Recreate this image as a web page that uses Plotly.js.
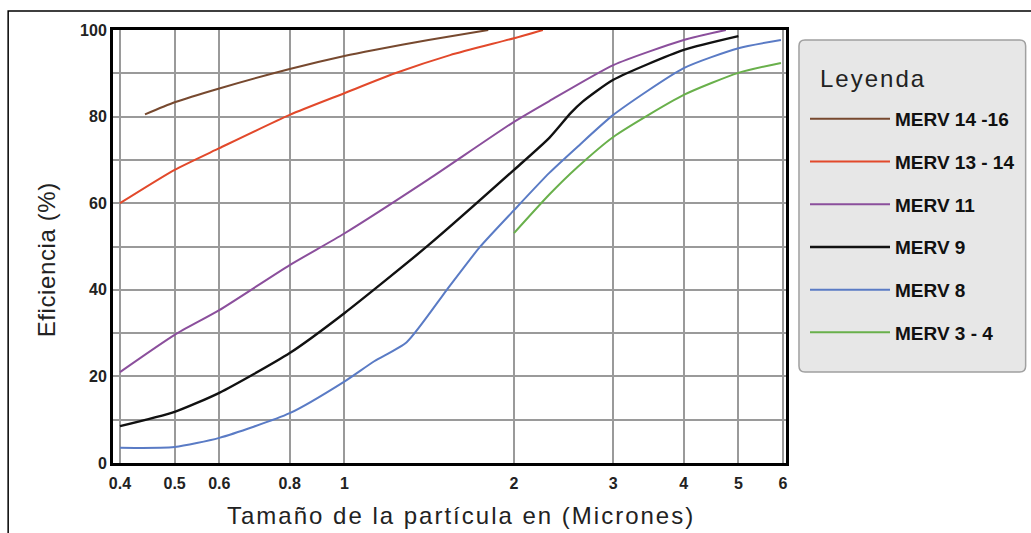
<!DOCTYPE html>
<html>
<head>
<meta charset="utf-8">
<script src="https://cdn.plot.ly/plotly-3.0.1.min.js"></script>
<style>
html,body{margin:0;padding:0;background:#fff;}
#chart{width:1031px;height:533px;}
g.annotation[data-index="0"] text{letter-spacing:2px;}
g.annotation[data-index="1"] text{letter-spacing:0.6px;}
g.annotation[data-index="2"] text{letter-spacing:2px;}
</style>
</head>
<body>
<div id="chart"></div>
<script>
// Data (particle size in microns, efficiency in %)
const seriesNames = ["MERV 14 -16", "MERV 13 - 14", "MERV 11", "MERV 9", "MERV 8", "MERV 3 - 4"];
const seriesColors = ["#77492f", "#e2492b", "#8b4f9c", "#111111", "#5a7bc5", "#69b04b"];

const merv14_x = [0.443, 0.5, 0.6, 0.8, 1.0, 1.13, 1.41, 1.8];
const merv14_y = [80.5, 83.3, 86.5, 91.0, 94.0, 95.4, 97.7, 100];

const merv13_x = [0.4, 0.5, 0.6, 0.8, 1.0, 1.23, 1.54, 2.0, 2.25];
const merv13_y = [60, 67.7, 72.7, 80.4, 85.4, 90.0, 94.2, 98.1, 100];

const merv11_x = [0.4, 0.5, 0.6, 0.8, 1.0, 1.41, 2.0, 2.31, 3.0, 4.0, 4.75];
const merv11_y = [21, 29.6, 35.3, 45.7, 53.0, 65.5, 78.8, 83.6, 91.9, 97.7, 100];

const merv9_x = [0.4, 0.5, 0.6, 0.8, 1.0, 1.41, 2.0, 2.31, 2.52, 2.65, 3.0, 4.0, 5.0];
const merv9_y = [8.5, 11.8, 16.2, 25.4, 34.6, 50.3, 67.7, 75.1, 80.8, 83.5, 88.5, 95.4, 98.6];

const merv8_x = [0.4, 0.5, 0.6, 0.8, 1.0, 1.13, 1.29, 1.52, 1.74, 2.0, 2.31, 2.59, 3.0, 4.0, 5.0, 5.95];
const merv8_y = [3.5, 3.7, 5.8, 11.5, 18.8, 23.5, 27.9, 40.0, 49.9, 58.4, 67.0, 73.0, 80.4, 91.2, 95.8, 97.7];

const merv3_x = [2.0, 2.31, 2.59, 3.0, 4.0, 5.0, 5.95];
const merv3_y = [53.1, 62.0, 68.3, 75.3, 85.0, 90.1, 92.4];

const xTickVals = [0.4, 0.5, 0.6, 0.8, 1, 2, 3, 4, 5, 6];
const xTickText = ["0.4", "0.5", "0.6", "0.8", "1", "2", "3", "4", "5", "6"];
const yTickVals = [0, 20, 40, 60, 80, 100];

const xTitle = "Tamaño de la partícula en (Micrones)";
const yTitle = "Eficiencia (%)";
const legendTitle = "Leyenda";

const xs = [merv14_x, merv13_x, merv11_x, merv9_x, merv8_x, merv3_x];
const ys = [merv14_y, merv13_y, merv11_y, merv9_y, merv8_y, merv3_y];

const traces = seriesNames.map((n, i) => ({
  type: "scatter", mode: "lines", name: n, x: xs[i], y: ys[i],
  legendgroup: "g" + i,
  line: {color: seriesColors[i], width: i === 3 ? 2.4 : 2, shape: "spline", smoothing: 0.6}
}));

const font = "Liberation Sans, Arial, sans-serif";
const PX = px => (px - 113) / 674, PY = py => (463 - py) / 433;

const layout = {
  width: 1031, height: 533,
  margin: {l: 113, r: 244, t: 30, b: 70},
  paper_bgcolor: "#ffffff", plot_bgcolor: "#ffffff",
  font: {family: font, color: "#222"},
  showlegend: true,
  xaxis: {
    type: "log", range: [Math.log10(0.4) - 0.0124, Math.log10(6) + 0.0053],
    tickvals: xTickVals, ticktext: xTickText,
    tickfont: {family: font, size: 16, weight: "bold", color: "#222"},
    ticklabelstandoff: 4,
    showgrid: true, gridcolor: "#9a9a9a", gridwidth: 2,
    showline: true, linecolor: "#000", linewidth: 3, mirror: true,
    ticks: "", zeroline: false
  },
  yaxis: {
    range: [0, 100],
    tickvals: yTickVals,
    tickfont: {family: font, size: 16, weight: "bold", color: "#222"},
    showgrid: true, gridcolor: "#9a9a9a", gridwidth: 2,
    minor: {dtick: 10, showgrid: true, gridcolor: "#9a9a9a", gridwidth: 2},
    showline: true, linecolor: "#000", linewidth: 3, mirror: true,
    ticks: "", zeroline: false
  },
  legend: {
    x: PX(805), xanchor: "left", y: PY(100), yanchor: "top",
    bgcolor: "rgba(0,0,0,0)", borderwidth: 0,
    traceorder: "grouped", tracegroupgap: 15,
    itemwidth: 80,
    font: {family: font, size: 19, weight: "bold", color: "#111"}
  },
  annotations: [
    {text: xTitle, xref: "paper", yref: "paper", x: PX(462), y: PY(515), xanchor: "center", yanchor: "middle",
     showarrow: false, font: {family: font, size: 24, color: "#222"}},
    {text: yTitle, xref: "paper", yref: "paper", x: PX(46), y: PY(260), xanchor: "center", yanchor: "middle",
     textangle: -90, showarrow: false, font: {family: font, size: 24, color: "#222"}},
    {text: legendTitle, xref: "paper", yref: "paper", x: PX(826), y: PY(78), xanchor: "left", yanchor: "middle",
     showarrow: false, font: {family: font, size: 24, color: "#222"}}
  ],
  shapes: [
    {type: "rect", xref: "paper", yref: "paper", x0: PX(8), x1: 1.6, y0: -0.3, y1: PY(11),
     line: {color: "#000", width: 1.5}, fillcolor: "rgba(0,0,0,0)", layer: "below"},
    {type: "path", xref: "paper", yref: "paper", layer: "below",
     path: (function(){
       const x0 = 800, x1 = 1027, y0 = 40, y1 = 372, r = 6;
       return "M" + PX(x0 + r) + "," + PY(y0) + " L" + PX(x1 - r) + "," + PY(y0) +
         " Q" + PX(x1) + "," + PY(y0) + " " + PX(x1) + "," + PY(y0 + r) +
         " L" + PX(x1) + "," + PY(y1 - r) + " Q" + PX(x1) + "," + PY(y1) + " " + PX(x1 - r) + "," + PY(y1) +
         " L" + PX(x0 + r) + "," + PY(y1) + " Q" + PX(x0) + "," + PY(y1) + " " + PX(x0) + "," + PY(y1 - r) +
         " L" + PX(x0) + "," + PY(y0 + r) + " Q" + PX(x0) + "," + PY(y0) + " " + PX(x0 + r) + "," + PY(y0) + " Z";
     })(),
     fillcolor: "#e7e7e7", line: {color: "#a0a0a0", width: 1.5}}
  ]
};

Plotly.newPlot("chart", traces, layout, {displayModeBar: false, staticPlot: true});
</script>
</body>
</html>
